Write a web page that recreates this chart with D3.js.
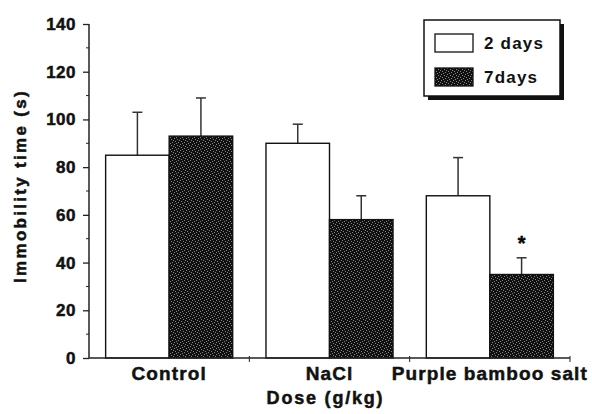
<!DOCTYPE html>
<html>
<head>
<meta charset="utf-8">
<script src="https://cdn.jsdelivr.net/npm/d3@7"></script>
<style>
  body { margin: 0; background: #fff; }
  svg { display: block; font-family: "Liberation Sans", Arial, sans-serif; font-weight: bold; }
  .heavy { stroke: #111; stroke-width: 0.5px; }
</style>
</head>
<body>
<svg class="chart"></svg>
<script>
const size = {w: 592, h: 414};
const margin = {top: 24, right: 22, bottom: 56, left: 89};

// data
const categories = ['Control', 'NaCl', 'Purple bamboo salt'];
const series = ['2 days', '7days'];
const days2 = [85, 90, 68];
const days2Err = [18, 8, 16];
const days7 = [93, 58, 35];
const days7Err = [16, 10, 7];
const yTicks = [0, 20, 40, 60, 80, 100, 120, 140];
const starred = [{cat: 'Purple bamboo salt', s: '7days'}];

const svg = d3.select('svg.chart')
    .attr('width', size.w)
    .attr('height', size.h);

// stippled fill for the dark bars
const defs = svg.append('defs');
const pat = defs.append('pattern')
    .attr('id', 'stipple')
    .attr('width', 6).attr('height', 6)
    .attr('patternUnits', 'userSpaceOnUse');
pat.append('rect').attr('width', 6).attr('height', 6).attr('fill', '#101010');
[[0, 0], [3, 1], [1, 3], [4, 4], [5, 2], [2, 5]].forEach(p => {
    pat.append('rect')
        .attr('x', p[0]).attr('y', p[1])
        .attr('width', 1).attr('height', 1)
        .attr('fill', '#858585');
});

const plotW = size.w - margin.left - margin.right;
const plotH = size.h - margin.top - margin.bottom;

const x0 = d3.scaleBand()
    .domain(categories)
    .range([margin.left, margin.left + plotW])
    .padding(0);

const x1 = d3.scaleBand()
    .domain(series)
    .range([0, x0.bandwidth()])
    .paddingInner(0)
    .paddingOuter(0.262);

const y = d3.scaleLinear()
    .domain([0, 140])
    .range([margin.top + plotH, margin.top]);

const rows = [];
categories.forEach((c, i) => {
    rows.push({cat: c, s: '2 days', v: days2[i], e: days2Err[i]});
    rows.push({cat: c, s: '7days', v: days7[i], e: days7Err[i]});
});

const fillFor = s => s === '2 days' ? '#fff' : 'url(#stipple)';

// error bars (upward only), drawn under bars
const errG = svg.append('g').attr('stroke', '#333').attr('stroke-width', 1.5);
errG.selectAll('line.stem')
    .data(rows)
    .join('line')
    .attr('class', 'stem')
    .attr('x1', d => x0(d.cat) + x1(d.s) + x1.bandwidth() / 2)
    .attr('x2', d => x0(d.cat) + x1(d.s) + x1.bandwidth() / 2)
    .attr('y1', d => y(d.v))
    .attr('y2', d => y(d.v + d.e));
errG.selectAll('line.cap')
    .data(rows)
    .join('line')
    .attr('class', 'cap')
    .attr('x1', d => x0(d.cat) + x1(d.s) + x1.bandwidth() / 2 - 5)
    .attr('x2', d => x0(d.cat) + x1(d.s) + x1.bandwidth() / 2 + 5)
    .attr('y1', d => y(d.v + d.e))
    .attr('y2', d => y(d.v + d.e));

// bars
svg.append('g').selectAll('rect')
    .data(rows)
    .join('rect')
    .attr('x', d => x0(d.cat) + x1(d.s))
    .attr('y', d => y(d.v))
    .attr('width', x1.bandwidth())
    .attr('height', d => y(0) - y(d.v))
    .attr('fill', d => fillFor(d.s))
    .attr('stroke', '#111')
    .attr('stroke-width', 1.4);

// significance stars
svg.append('g').selectAll('text')
    .data(starred)
    .join('text')
    .attr('class', 'heavy')
    .attr('x', d => x0(d.cat) + x1(d.s) + x1.bandwidth() / 2)
    .attr('y', d => {
        const r = rows.find(o => o.cat === d.cat && o.s === d.s);
        return y(r.v + r.e) - 8;
    })
    .attr('text-anchor', 'middle')
    .attr('font-size', 20)
    .text('*');

// y axis
const yAxis = d3.axisLeft(y)
    .tickValues(yTicks)
    .tickSize(6)
    .tickPadding(7);
const yG = svg.append('g')
    .attr('transform', `translate(${margin.left},0)`)
    .call(yAxis);
yG.select('.domain').attr('stroke', '#222').attr('stroke-width', 1.5).attr('d', `M0,${y(140)}V${y(0)}`);
yG.selectAll('.tick line').attr('stroke', '#222').attr('stroke-width', 1.3);
yG.selectAll('.tick text')
    .attr('class', 'heavy')
    .attr('font-size', 17)
    .attr('font-weight', 'bold')
    .attr('font-family', '"Liberation Sans", Arial, sans-serif')
    .attr('letter-spacing', 0.5)
    .attr('fill', '#111');
// minor ticks
yG.selectAll('line.minor')
    .data(d3.range(10, 140, 20))
    .join('line')
    .attr('class', 'minor')
    .attr('x1', -3).attr('x2', 0)
    .attr('y1', d => y(d)).attr('y2', d => y(d))
    .attr('stroke', '#222');

// x axis
const xG = svg.append('g').attr('transform', `translate(0,${y(0)})`);
xG.append('line')
    .attr('x1', margin.left).attr('x2', margin.left + plotW)
    .attr('stroke', '#222').attr('stroke-width', 1.5);
xG.selectAll('line.tick')
    .data(categories)
    .join('line')
    .attr('class', 'tick')
    .attr('x1', d => x0(d) + x0.bandwidth())
    .attr('x2', d => x0(d) + x0.bandwidth())
    .attr('y1', -2).attr('y2', 4)
    .attr('stroke', '#222');
xG.selectAll('text')
    .data(categories)
    .join('text')
    .attr('class', 'heavy')
    .attr('x', d => x0(d) + x0.bandwidth() / 2)
    .attr('y', 22)
    .attr('text-anchor', 'middle')
    .attr('font-size', 19)
    .attr('letter-spacing', 1.1)
    .attr('fill', '#111')
    .text(d => d);

// axis titles
svg.append('text')
    .attr('class', 'heavy')
    .attr('x', margin.left + plotW / 2 - 4)
    .attr('y', 404)
    .attr('text-anchor', 'middle')
    .attr('font-size', 18)
    .attr('letter-spacing', 1.8)
    .attr('fill', '#111')
    .text('Dose (g/kg)');

svg.append('text')
    .attr('class', 'heavy')
    .attr('transform', 'translate(26,186) rotate(-90)')
    .attr('text-anchor', 'middle')
    .attr('font-size', 17)
    .attr('letter-spacing', 2.3)
    .attr('fill', '#111')
    .text('Immobility time (s)');

// legend
const leg = svg.append('g').attr('transform', 'translate(424,20)');
leg.append('rect')
    .attr('x', 4).attr('y', 4)
    .attr('width', 136).attr('height', 76)
    .attr('fill', '#111');
leg.append('rect')
    .attr('width', 136).attr('height', 76)
    .attr('fill', '#fff')
    .attr('stroke', '#111')
    .attr('stroke-width', 1.5);
const legItems = leg.selectAll('g.item')
    .data(series)
    .join('g')
    .attr('class', 'item')
    .attr('transform', (d, i) => `translate(11,${14 + i * 34})`);
legItems.append('rect')
    .attr('width', 38).attr('height', 18)
    .attr('fill', d => fillFor(d))
    .attr('stroke', '#111')
    .attr('stroke-width', 1.3);
legItems.append('text')
    .attr('x', 49)
    .attr('y', 15)
    .attr('font-size', 17)
    .attr('letter-spacing', 1.2)
    .attr('fill', '#111')
    .text(d => d);
</script>
</body>
</html>
